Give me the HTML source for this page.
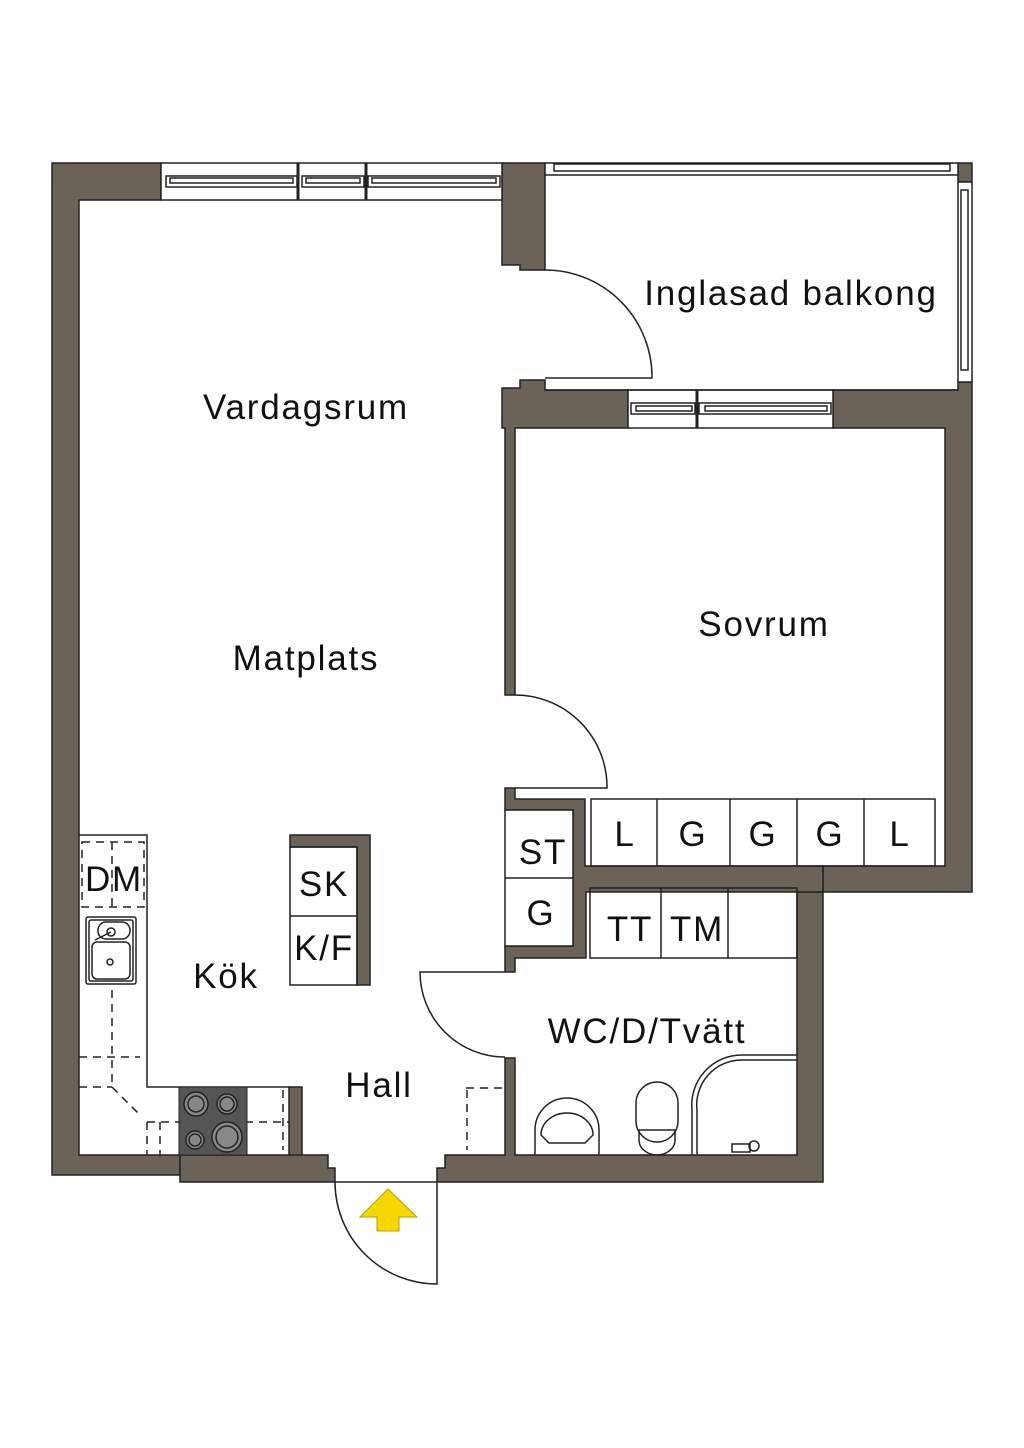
<!DOCTYPE html>
<html><head><meta charset="utf-8"><style>
html,body{margin:0;padding:0;background:#fff}
svg{display:block}
text{font-family:"Liberation Sans",sans-serif;fill:#111;letter-spacing:1.8px}
</style></head><body>
<svg width="1024" height="1448" viewBox="0 0 1024 1448" xmlns="http://www.w3.org/2000/svg">
<g fill="#6b6357" stroke="#222" stroke-width="1.5">
<path d="M52,163 H161 V200 H79 V1155 H180 V1175 H52 Z"/>
<path d="M180,1155 H302 V1087 H289 V1155 H328 V1168 H335 V1182 H180 Z"/>
<path d="M437,1182 V1168 H445 V1155 H505 V1058 H515 V1155 H797 V892 H823 V1182 Z"/>
<path d="M502,163 H545 V270 H520 V265 H502 Z"/>
<path d="M502,388 H520 V380 H545 V390 H628 V428 H515 V695 H505 V428 H502 Z"/>
<path d="M833,390 H958 V382 H972 V892 H823 V866 H945 V428 H833 Z"/>
<rect x="958" y="163" width="14" height="19"/>
<path d="M505,788 H515 V799 H585 V866 H823 V892 H586 V958 H515 V972 H505 V946 H573 V810 H505 Z"/>
<path d="M290,835 H370 V985 H357 V847 H290 Z"/>
</g>
<g fill="#fff" stroke="#222" stroke-width="1.5">
<rect x="161" y="163" width="341" height="37"/>
<rect x="166" y="176" width="131" height="11"/><rect x="170" y="178" width="123" height="5"/>
<rect x="302" y="176" width="62" height="11"/><rect x="306" y="178" width="54" height="5"/>
<rect x="368" y="176" width="132" height="11"/><rect x="372" y="178" width="124" height="5"/>
<line x1="298" y1="163" x2="298" y2="200" stroke-width="3"/><line x1="366" y1="163" x2="366" y2="200" stroke-width="3"/>
<rect x="545" y="163" width="413" height="12"/><rect x="554" y="164" width="396" height="7"/>
<rect x="958" y="182" width="14" height="200"/><rect x="961" y="190" width="7" height="180"/>
<rect x="628" y="390" width="205" height="38"/>
<rect x="631" y="403" width="64" height="11"/><rect x="636" y="406" width="56" height="5"/>
<rect x="699" y="403" width="132" height="11"/><rect x="705" y="406" width="122" height="5"/>
<line x1="697" y1="390" x2="697" y2="428" stroke-width="3"/>
<rect x="505" y="810" width="68" height="136"/>
</g>
<g fill="none" stroke="#222" stroke-width="1.5">
<line x1="545" y1="390" x2="958" y2="390"/>
<path d="M545,270 A107,107 0 0 1 652,378 H545"/>
<path d="M515,695 A92,92 0 0 1 607,788 H515"/>
<path d="M505,972 H420 A85,85 0 0 0 505,1057"/>
<path d="M335,1182 H437 V1284 A102,102 0 0 1 335,1182"/>
<path d="M79,835 H147 V1087 H289"/>
<rect x="290" y="847" width="67" height="138"/>
<line x1="290" y1="916" x2="357" y2="916"/>
<rect x="591" y="799" width="344" height="67"/>
<line x1="657" y1="799" x2="657" y2="866"/><line x1="730" y1="799" x2="730" y2="866"/>
<line x1="797" y1="799" x2="797" y2="866"/><line x1="864" y1="799" x2="864" y2="866"/>
<rect x="590" y="888" width="207" height="70"/>
<line x1="661" y1="888" x2="661" y2="958"/><line x1="728" y1="888" x2="728" y2="958"/>
<line x1="505" y1="878" x2="573" y2="878"/>
<path d="M692,1155 V1110 A50,50 0 0 1 742,1055 H797"/>
<path d="M697,1155 V1110 A45,45 0 0 1 742,1060 H797"/>
<path d="M535,1155 V1130 A32,32 0 0 1 599,1130 V1155"/>
<path d="M541,1135 A26,22 0 0 1 593,1135 L585,1143 H549 Z"/>
<rect x="636" y="1082" width="42" height="60" rx="21"/>
<path d="M639,1130 H675 V1140 A18,15 0 0 1 639,1140 Z"/>
<rect x="732" y="1144" width="18" height="8"/><circle cx="754" cy="1146" r="5"/>
<g stroke-dasharray="8,6">
<rect x="82" y="842" width="62" height="65"/>
<line x1="112" y1="842" x2="112" y2="907"/>
<line x1="112" y1="990" x2="112" y2="1087"/>
<line x1="79" y1="1057" x2="140" y2="1057"/>
<line x1="79" y1="1087" x2="112" y2="1087"/>
<line x1="112" y1="1087" x2="140" y2="1115"/>
<line x1="147" y1="1122" x2="289" y2="1122"/>
<line x1="147" y1="1122" x2="147" y2="1155"/><line x1="160" y1="1122" x2="160" y2="1155"/>
<line x1="283" y1="1090" x2="283" y2="1150"/>
<line x1="466" y1="1088" x2="502" y2="1088"/><line x1="467" y1="1090" x2="467" y2="1150"/>
</g>
<rect x="86" y="917" width="50" height="67" rx="2"/><rect x="89" y="920" width="44" height="61" rx="2"/>
<rect x="98" y="922" width="32" height="17" rx="8"/>
<rect x="92" y="942" width="38" height="37" rx="5"/>
<circle cx="111" cy="932" r="4"/><line x1="111" y1="932" x2="95" y2="940"/>
<circle cx="110" cy="962" r="3"/>
</g>
<rect x="179" y="1087" width="68" height="68" fill="#555" stroke="#222"/>
<g fill="#888" stroke="#222" stroke-width="1.5">
<circle cx="196" cy="1104" r="12"/><circle cx="196" cy="1104" r="8"/>
<circle cx="227" cy="1104" r="10"/><circle cx="227" cy="1104" r="7"/>
<circle cx="195" cy="1140" r="9"/><circle cx="195" cy="1140" r="6"/>
<circle cx="227" cy="1137" r="15"/><circle cx="227" cy="1137" r="11"/>
</g>
<path d="M360,1217 L388,1189 L417,1217 H399 V1231 H377 V1217 Z" fill="#f5d800" stroke="#b8a000"/>
<g font-size="35">
<text x="306" y="419" text-anchor="middle">Vardagsrum</text>
<text x="791" y="305" text-anchor="middle">Inglasad balkong</text>
<text x="764" y="636" text-anchor="middle">Sovrum</text>
<text x="306" y="670" text-anchor="middle">Matplats</text>
<text x="226" y="988" text-anchor="middle">Kök</text>
<text x="379" y="1097" text-anchor="middle">Hall</text>
<text x="647" y="1043" text-anchor="middle">WC/D/Tvätt</text>
<text x="114" y="891" text-anchor="middle">DM</text>
<text x="324" y="896" text-anchor="middle">SK</text>
<text x="324" y="960" text-anchor="middle">K/F</text>
<text x="543" y="864" text-anchor="middle">ST</text>
<text x="541" y="925" text-anchor="middle">G</text>
<text x="625" y="846" text-anchor="middle">L</text>
<text x="693" y="846" text-anchor="middle">G</text>
<text x="763" y="846" text-anchor="middle">G</text>
<text x="830" y="846" text-anchor="middle">G</text>
<text x="900" y="846" text-anchor="middle">L</text>
<text x="630" y="941" text-anchor="middle">TT</text>
<text x="697" y="941" text-anchor="middle">TM</text>
</g>
</svg>
</body></html>
